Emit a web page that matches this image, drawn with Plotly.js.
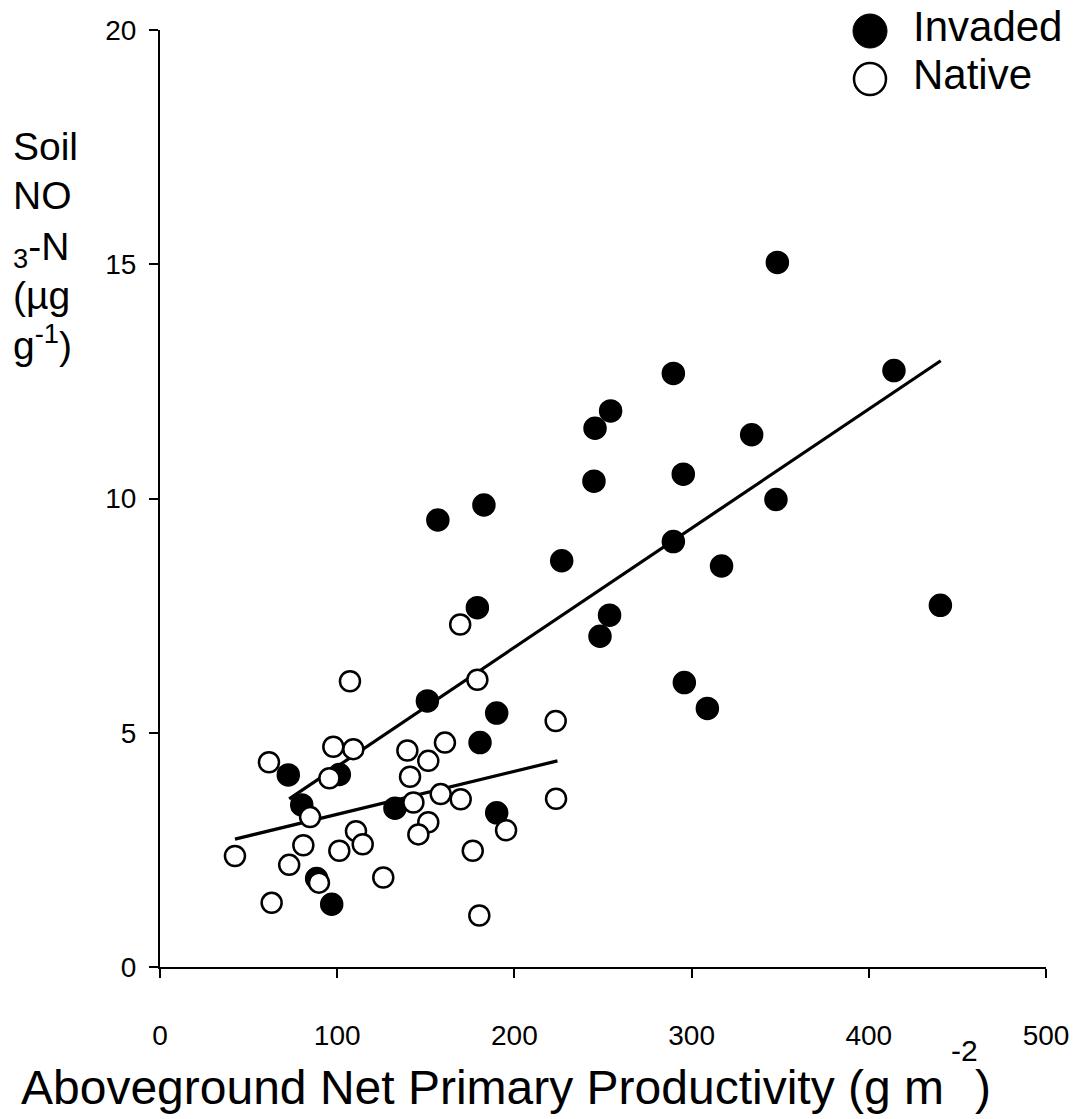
<!DOCTYPE html>
<html>
<head>
<meta charset="utf-8">
<script src="https://cdn.plot.ly/plotly-3.0.1.min.js"></script>
<style>html,body{margin:0;padding:0;background:#fff;}</style>
</head>
<body>
<div id="chart" style="width:1076px;height:1119px;"></div>
<script>
// Invaded plots (filled circles)
const invadedANPP = [348.4, 414.2, 289.7, 254.3, 245.5, 333.9, 295.3, 244.9, 347.6, 182.8,
                     156.8, 289.7, 226.7, 316.9, 440.4, 179.1, 253.7, 248.3, 295.9, 308.9,
                     150.9, 190.0, 180.6, 72.4, 101.2, 80.0, 132.6, 190.0, 88.4, 96.9];
const invadedNO3 = [15.04, 12.73, 12.67, 11.87, 11.50, 11.36, 10.52, 10.37, 9.98, 9.86,
                    9.54, 9.08, 8.67, 8.56, 7.72, 7.67, 7.51, 7.06, 6.07, 5.52,
                    5.68, 5.42, 4.79, 4.10, 4.11, 3.46, 3.39, 3.29, 1.89, 1.34];

// Native plots (open circles)
const nativeANPP = [169.4, 179.1, 107.2, 223.3, 97.8, 109.1, 139.6, 160.8, 61.5, 151.4,
                    95.6, 141.1, 84.7, 143.0, 158.4, 169.7, 223.5, 151.4, 145.8, 110.6,
                    114.4, 195.3, 80.9, 101.2, 176.5, 42.3, 72.9, 89.7, 126.0, 63.0, 180.2];
const nativeNO3 = [7.31, 6.13, 6.10, 5.25, 4.70, 4.65, 4.62, 4.79, 4.37, 4.40,
                   4.03, 4.06, 3.20, 3.51, 3.69, 3.58, 3.59, 3.09, 2.83, 2.90,
                   2.62, 2.92, 2.60, 2.48, 2.48, 2.37, 2.18, 1.80, 1.91, 1.37, 1.10];

// Regression line end points
const invadedFitX = [72.9, 440.6];
const invadedFitY = [3.59, 12.94];
const nativeFitX = [42.3, 224.3];
const nativeFitY = [2.73, 4.40];

// Tick labels
const xTicks = [0, 100, 200, 300, 400, 500];
const yTicks = [0, 5, 10, 15, 20];
const legendNames = ["Invaded", "Native"];

const FONT = "Liberation Sans, Arial, Helvetica, sans-serif";

const traces = [
  {x: invadedFitX, y: invadedFitY, mode: "lines", line: {color: "#000", width: 3.2}, showlegend: false, hoverinfo: "skip"},
  {x: nativeFitX, y: nativeFitY, mode: "lines", line: {color: "#000", width: 3.2}, showlegend: false, hoverinfo: "skip"},
  {x: invadedANPP, y: invadedNO3, mode: "markers", name: legendNames[0],
   marker: {symbol: "circle", size: 22, color: "#000", line: {color: "#000", width: 1.5}}, showlegend: false},
  {x: nativeANPP, y: nativeNO3, mode: "markers", name: legendNames[1],
   marker: {symbol: "circle", size: 20, color: "#fff", line: {color: "#000", width: 2.5}}, showlegend: false}
];

function px2x(p){ return (p - 160) / 886; }
function px2y(p){ return (967 - p) / 937; }
function note(text, xpx, ypx, size, anchor){
  return {text: text, xref: "paper", yref: "paper", x: px2x(xpx), y: px2y(ypx),
          xanchor: anchor || "left", yanchor: "middle", showarrow: false, borderpad: 0,
          font: {family: FONT, size: size, color: "#000"}};
}

const layout = {
  width: 1076, height: 1119,
  margin: {l: 160, r: 30, t: 30, b: 152},
  paper_bgcolor: "#fff", plot_bgcolor: "#fff",
  font: {family: FONT, color: "#000"},
  showlegend: false,
  xaxis: {
    range: [0, 500], tickvals: xTicks, ticktext: xTicks.map(String),
    showgrid: false, zeroline: false, showline: true, linecolor: "#000", linewidth: 2,
    ticks: "outside", ticklen: 9, tickwidth: 2, tickcolor: "#000",
    tickfont: {family: FONT, size: 28, color: "#000"}, ticklabelstandoff: 33,
    fixedrange: true
  },
  yaxis: {
    range: [0, 20], tickvals: yTicks, ticktext: yTicks.map(String),
    showgrid: false, zeroline: false, showline: true, linecolor: "#000", linewidth: 2,
    ticks: "outside", ticklen: 9, tickwidth: 2, tickcolor: "#000",
    tickfont: {family: FONT, size: 28, color: "#000"}, ticklabelstandoff: 7,
    fixedrange: true
  },
  annotations: [
    note("Aboveground Net Primary Productivity (g m", 20, 1087, 48, "left"),
    note("-2", 950, 1050, 30, "left"),
    note(")", 974, 1087, 48, "left"),
    note("Soil", 12, 147, 39),
    note("NO", 12, 195, 39),
    note("<sub>3</sub>-N", 12, 250, 39),
    note("(µg", 12, 295, 39),
    note("g<sup>-1</sup>)", 12, 342, 39),
    note(legendNames[0], 912, 27, 42),
    note(legendNames[1], 912, 75, 42)
  ],
  shapes: [
    {type: "circle", xref: "paper", yref: "paper", xsizemode: "pixel", ysizemode: "pixel",
     xanchor: px2x(870), yanchor: px2y(31), x0: -17, x1: 17, y0: -17, y1: 17,
     fillcolor: "#000", line: {color: "#000", width: 1}},
    {type: "circle", xref: "paper", yref: "paper", xsizemode: "pixel", ysizemode: "pixel",
     xanchor: px2x(870), yanchor: px2y(79), x0: -16, x1: 16, y0: -16, y1: 16,
     fillcolor: "#fff", line: {color: "#000", width: 2.5}}
  ]
};

Plotly.newPlot("chart", traces, layout, {displayModeBar: false, staticPlot: true});
</script>
</body>
</html>
